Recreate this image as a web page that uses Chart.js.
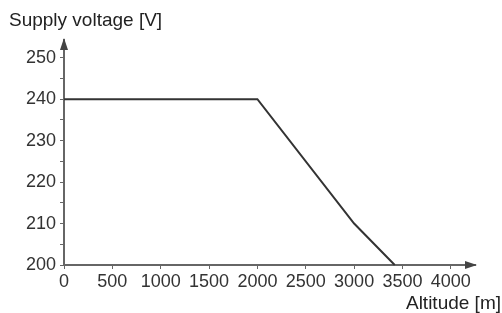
<!DOCTYPE html>
<html>
<head>
<meta charset="utf-8">
<script src="https://cdn.jsdelivr.net/npm/chart.js@4"></script>
<style>
  body { margin: 0; background: #fff; }
  #wrap { position: relative; width: 502px; height: 313px; }
</style>
</head>
<body>
<div id="wrap"><canvas id="chart"></canvas></div>
<script>
// values
const altitude = [0, 2000, 3000, 3420];
const voltage = [240, 240, 210, 200];
const xTicks = [0, 500, 1000, 1500, 2000, 2500, 3000, 3500, 4000];
const yTicks = [200, 205, 210, 215, 220, 225, 230, 235, 240, 245, 250];
const yTitle = "Supply voltage [V]";
const xTitle = "Altitude [m]";

const axisColor = "#666";
const textColor = "#333";
const fontFamily = "'Liberation Sans', Arial, sans-serif";

// arrows on the axis ends + axis titles
const axisDecor = {
  id: "axisDecor",
  afterDraw(chart) {
    const { ctx, chartArea } = chart;
    ctx.save();
    ctx.fillStyle = "#444";
    // x arrow
    ctx.beginPath();
    ctx.moveTo(chartArea.right + 2, chartArea.bottom);
    ctx.lineTo(chartArea.right - 10, chartArea.bottom - 4);
    ctx.lineTo(chartArea.right - 10, chartArea.bottom + 4);
    ctx.closePath();
    ctx.fill();
    // y arrow
    ctx.beginPath();
    ctx.moveTo(chartArea.left, chartArea.top - 2);
    ctx.lineTo(chartArea.left - 4, chartArea.top + 10);
    ctx.lineTo(chartArea.left + 4, chartArea.top + 10);
    ctx.closePath();
    ctx.fill();

    ctx.fillStyle = "#222";
    ctx.font = "19px " + fontFamily;
    ctx.textBaseline = "middle";
    ctx.textAlign = "left";
    ctx.fillText(yTitle, 9, 21);
    ctx.textAlign = "right";
    ctx.fillText(xTitle, 501, 304);
    ctx.restore();
  }
};

new Chart(document.getElementById("chart"), {
  type: "line",
  data: {
    datasets: [{
      data: altitude.map((a, i) => ({ x: a, y: voltage[i] })),
      borderColor: "#333",
      borderWidth: 2,
      pointRadius: 0,
      tension: 0,
      clip: false
    }]
  },
  options: {
    responsive: true,
    maintainAspectRatio: false,
    animation: false,
    layout: { padding: { left: 0, top: 40, right: 27, bottom: 0 } },
    plugins: { legend: { display: false }, tooltip: { enabled: false } },
    scales: {
      x: {
        type: "linear",
        min: 0,
        max: 4250,
        grid: { display: true, drawOnChartArea: false, tickLength: 4, tickColor: axisColor },
        border: { color: axisColor, width: 2 },
        afterBuildTicks(scale) { scale.ticks = xTicks.map((v) => ({ value: v })); },
        ticks: {
          maxRotation: 0,
          autoSkip: false,
          padding: 2,
          color: textColor,
          font: { family: fontFamily, size: 18 },
          callback: (v) => String(v)
        },
        afterFit(scale) { scale.height = 48; }
      },
      y: {
        type: "linear",
        min: 200,
        max: 254.3,
        grid: { display: true, drawOnChartArea: false, tickLength: 4, tickColor: axisColor },
        border: { color: axisColor, width: 2 },
        afterBuildTicks(scale) { scale.ticks = yTicks.map((v) => ({ value: v })); },
        ticks: {
          autoSkip: false,
          padding: 4,
          color: textColor,
          font: { family: fontFamily, size: 18 },
          callback: (v) => (v % 10 === 0 ? String(v) : "")
        },
        afterFit(scale) { scale.width = 64; }
      }
    }
  },
  plugins: [axisDecor]
});
</script>
</body>
</html>
